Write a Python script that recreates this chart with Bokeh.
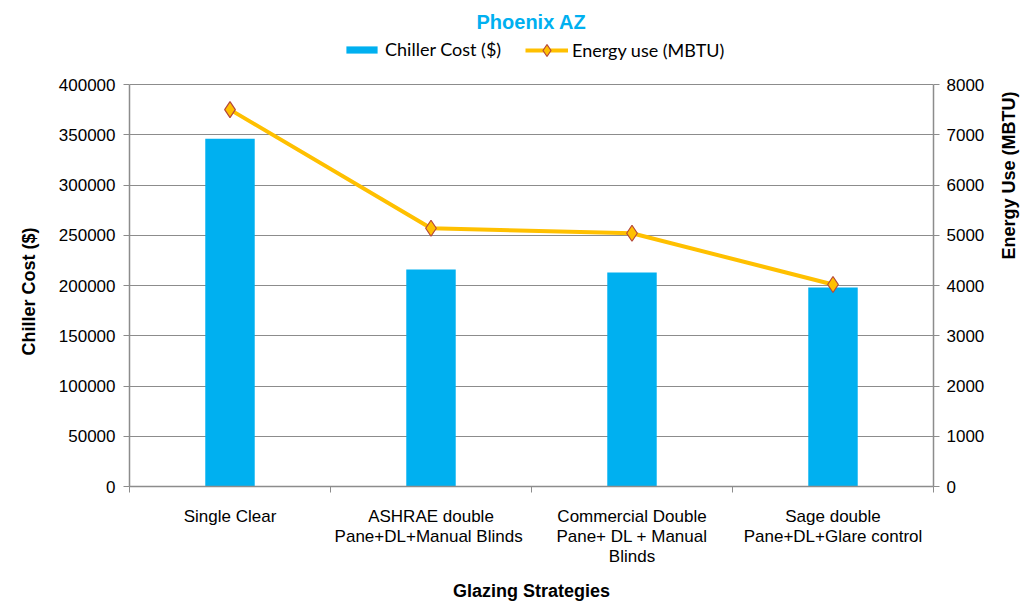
import math
from bokeh.plotting import figure
from bokeh.models import (Range1d, LinearAxis, FixedTicker, NumeralTickFormatter,
                          Legend, LegendItem, ColumnDataSource, Title)
from bokeh.embed import file_html
from bokeh.resources import INLINE

# Glazing strategies compared for Phoenix, AZ
strategies = [
    "Single Clear",
    "ASHRAE double\nPane+DL+Manual  Blinds",
    "Commercial Double\nPane+ DL + Manual\nBlinds",
    "Sage double\nPane+DL+Glare control",
]
chiller_cost = [346000, 216000, 213000, 198000]   # $
energy_use = [7500, 5140, 5040, 4020]             # MBTU
cost_ticks = [0, 50000, 100000, 150000, 200000, 250000, 300000, 350000, 400000]
energy_ticks = [0, 1000, 2000, 3000, 4000, 5000, 6000, 7000, 8000]

BAR_COLOR = "#00B0F0"
LINE_COLOR = "#FFC000"
MARKER_EDGE = "#B5473A"
AXIS_GRAY = "#8C8C8C"
FONT = "Liberation Sans"

W, H = 1032, 605
FRAME_TOP, GRID_TOP, FRAME_BOTTOM = 32, 84, 486   # pixel rows of the plotting area
FRAME_LEFT, FRAME_RIGHT = 123, 937

# the frame reaches above the last gridline so the legend sits inside it
headroom = (FRAME_BOTTOM - FRAME_TOP) / (FRAME_BOTTOM - GRID_TOP)

# each strategy occupies one unit slot; marks sit in the slot centre
n = len(strategies)
slot_edges = list(range(n + 1))
slot_centers = [i + 0.5 for i in range(n)]

src = ColumnDataSource(dict(x=slot_centers, cost=chiller_cost, energy=energy_use))

p = figure(
    width=W, height=H,
    x_range=Range1d(0, n),
    y_range=Range1d(cost_ticks[0], cost_ticks[-1] * headroom),
    x_axis_location=None, y_axis_location=None,
    output_backend="svg", toolbar_location=None,
    min_border_left=FRAME_LEFT, min_border_right=W - FRAME_RIGHT,
    min_border_top=FRAME_TOP, min_border_bottom=H - FRAME_BOTTOM,
)
p.extra_y_ranges = {"energy": Range1d(energy_ticks[0], energy_ticks[-1] * headroom)}

p.title.text = "Phoenix AZ"
p.title.align = "center"
p.title.text_font = FONT
p.title.text_font_size = "20px"
p.title.text_color = BAR_COLOR
p.title.text_font_style = "bold"
p.title.standoff = 0

p.outline_line_color = None
p.background_fill_color = "white"
p.border_fill_color = "white"

# horizontal gridlines only
p.xgrid.visible = False
p.ygrid.ticker = FixedTicker(ticks=cost_ticks)
p.ygrid.grid_line_color = AXIS_GRAY
p.ygrid.grid_line_width = 1

bars = p.vbar(x="x", top="cost", width=0.246, source=src,
              fill_color=BAR_COLOR, line_color=None)
line = p.line(x="x", y="energy", source=src, y_range_name="energy",
              line_color=LINE_COLOR, line_width=4)
pts = p.scatter(x="x", y="energy", source=src, y_range_name="energy",
                marker="diamond", size=16,
                fill_color=LINE_COLOR, line_color=MARKER_EDGE, line_width=1.2)

def style_axis(ax):
    ax.axis_line_color = AXIS_GRAY
    ax.axis_line_width = 1.5
    ax.major_tick_line_color = AXIS_GRAY
    ax.major_tick_in = 0
    ax.major_tick_out = 6
    ax.minor_tick_line_color = None
    ax.major_label_text_font = FONT
    ax.major_label_text_font_size = "17px"
    ax.major_label_text_color = "black"
    ax.axis_label_text_font = FONT
    ax.axis_label_text_font_size = "18px"
    ax.axis_label_text_font_style = "bold"
    ax.axis_label_text_color = "black"

# left: chiller cost
left = LinearAxis(ticker=FixedTicker(ticks=cost_ticks),
                  formatter=NumeralTickFormatter(format="0"),
                  bounds=(cost_ticks[0], cost_ticks[-1]))
style_axis(left)
left.major_label_standoff = 8
p.add_layout(left, "left")

# left axis title, centred on the gridded part of the frame
left_title = Title(text="Chiller Cost  ($)", align="left", vertical_align="bottom",
                   offset=131, standoff=33, text_font=FONT, text_font_size="18px",
                   text_font_style="bold", text_color="black")
p.add_layout(left_title, "left")

# right: energy use, label reading upwards
right = LinearAxis(y_range_name="energy", ticker=FixedTicker(ticks=energy_ticks),
                   formatter=NumeralTickFormatter(format="0"),
                   bounds=(energy_ticks[0], energy_ticks[-1]),
                   axis_label="Energy Use (MBTU)")
style_axis(right)
right.major_label_standoff = 7
right.axis_label_standoff = 22
right.axis_label_orientation = math.pi / 2
p.add_layout(right, "right")

# bottom: names under each slot, tick marks on the slot boundaries
bottom = LinearAxis(ticker=FixedTicker(ticks=slot_centers, minor_ticks=slot_edges),
                    major_label_overrides={c: s for c, s in zip(slot_centers, strategies)},
                    axis_label="Glazing Strategies")
style_axis(bottom)
bottom.major_tick_line_color = None
bottom.major_tick_out = 0
bottom.minor_tick_line_color = AXIS_GRAY
bottom.minor_tick_line_width = 1
bottom.minor_tick_in = 0
bottom.minor_tick_out = 6
bottom.major_label_text_line_height = 1.07
bottom.major_label_standoff = 14
bottom.axis_label_standoff = 12
p.add_layout(bottom, "below")

def make_legend(item, center_y, gw, gh, x):
    h = max(gh, 20)
    return Legend(items=[item], location=(x - FRAME_LEFT, FRAME_BOTTOM - center_y - h / 2),
                  orientation="horizontal",
                  glyph_width=gw, glyph_height=gh, padding=0, margin=0,
                  label_standoff=4, label_height=20, label_text_font="Lato",
                  label_text_font_size="18px", label_text_color="black",
                  border_line_color=None, background_fill_alpha=0)

p.add_layout(make_legend(LegendItem(label="Chiller Cost ($)", renderers=[bars]),
                         50, 39, 9, 336))
p.add_layout(make_legend(LegendItem(label="Energy use (MBTU)", renderers=[line, pts]),
                         50, 43, 30, 519))

open("out.html", "w").write(file_html(p, INLINE))
